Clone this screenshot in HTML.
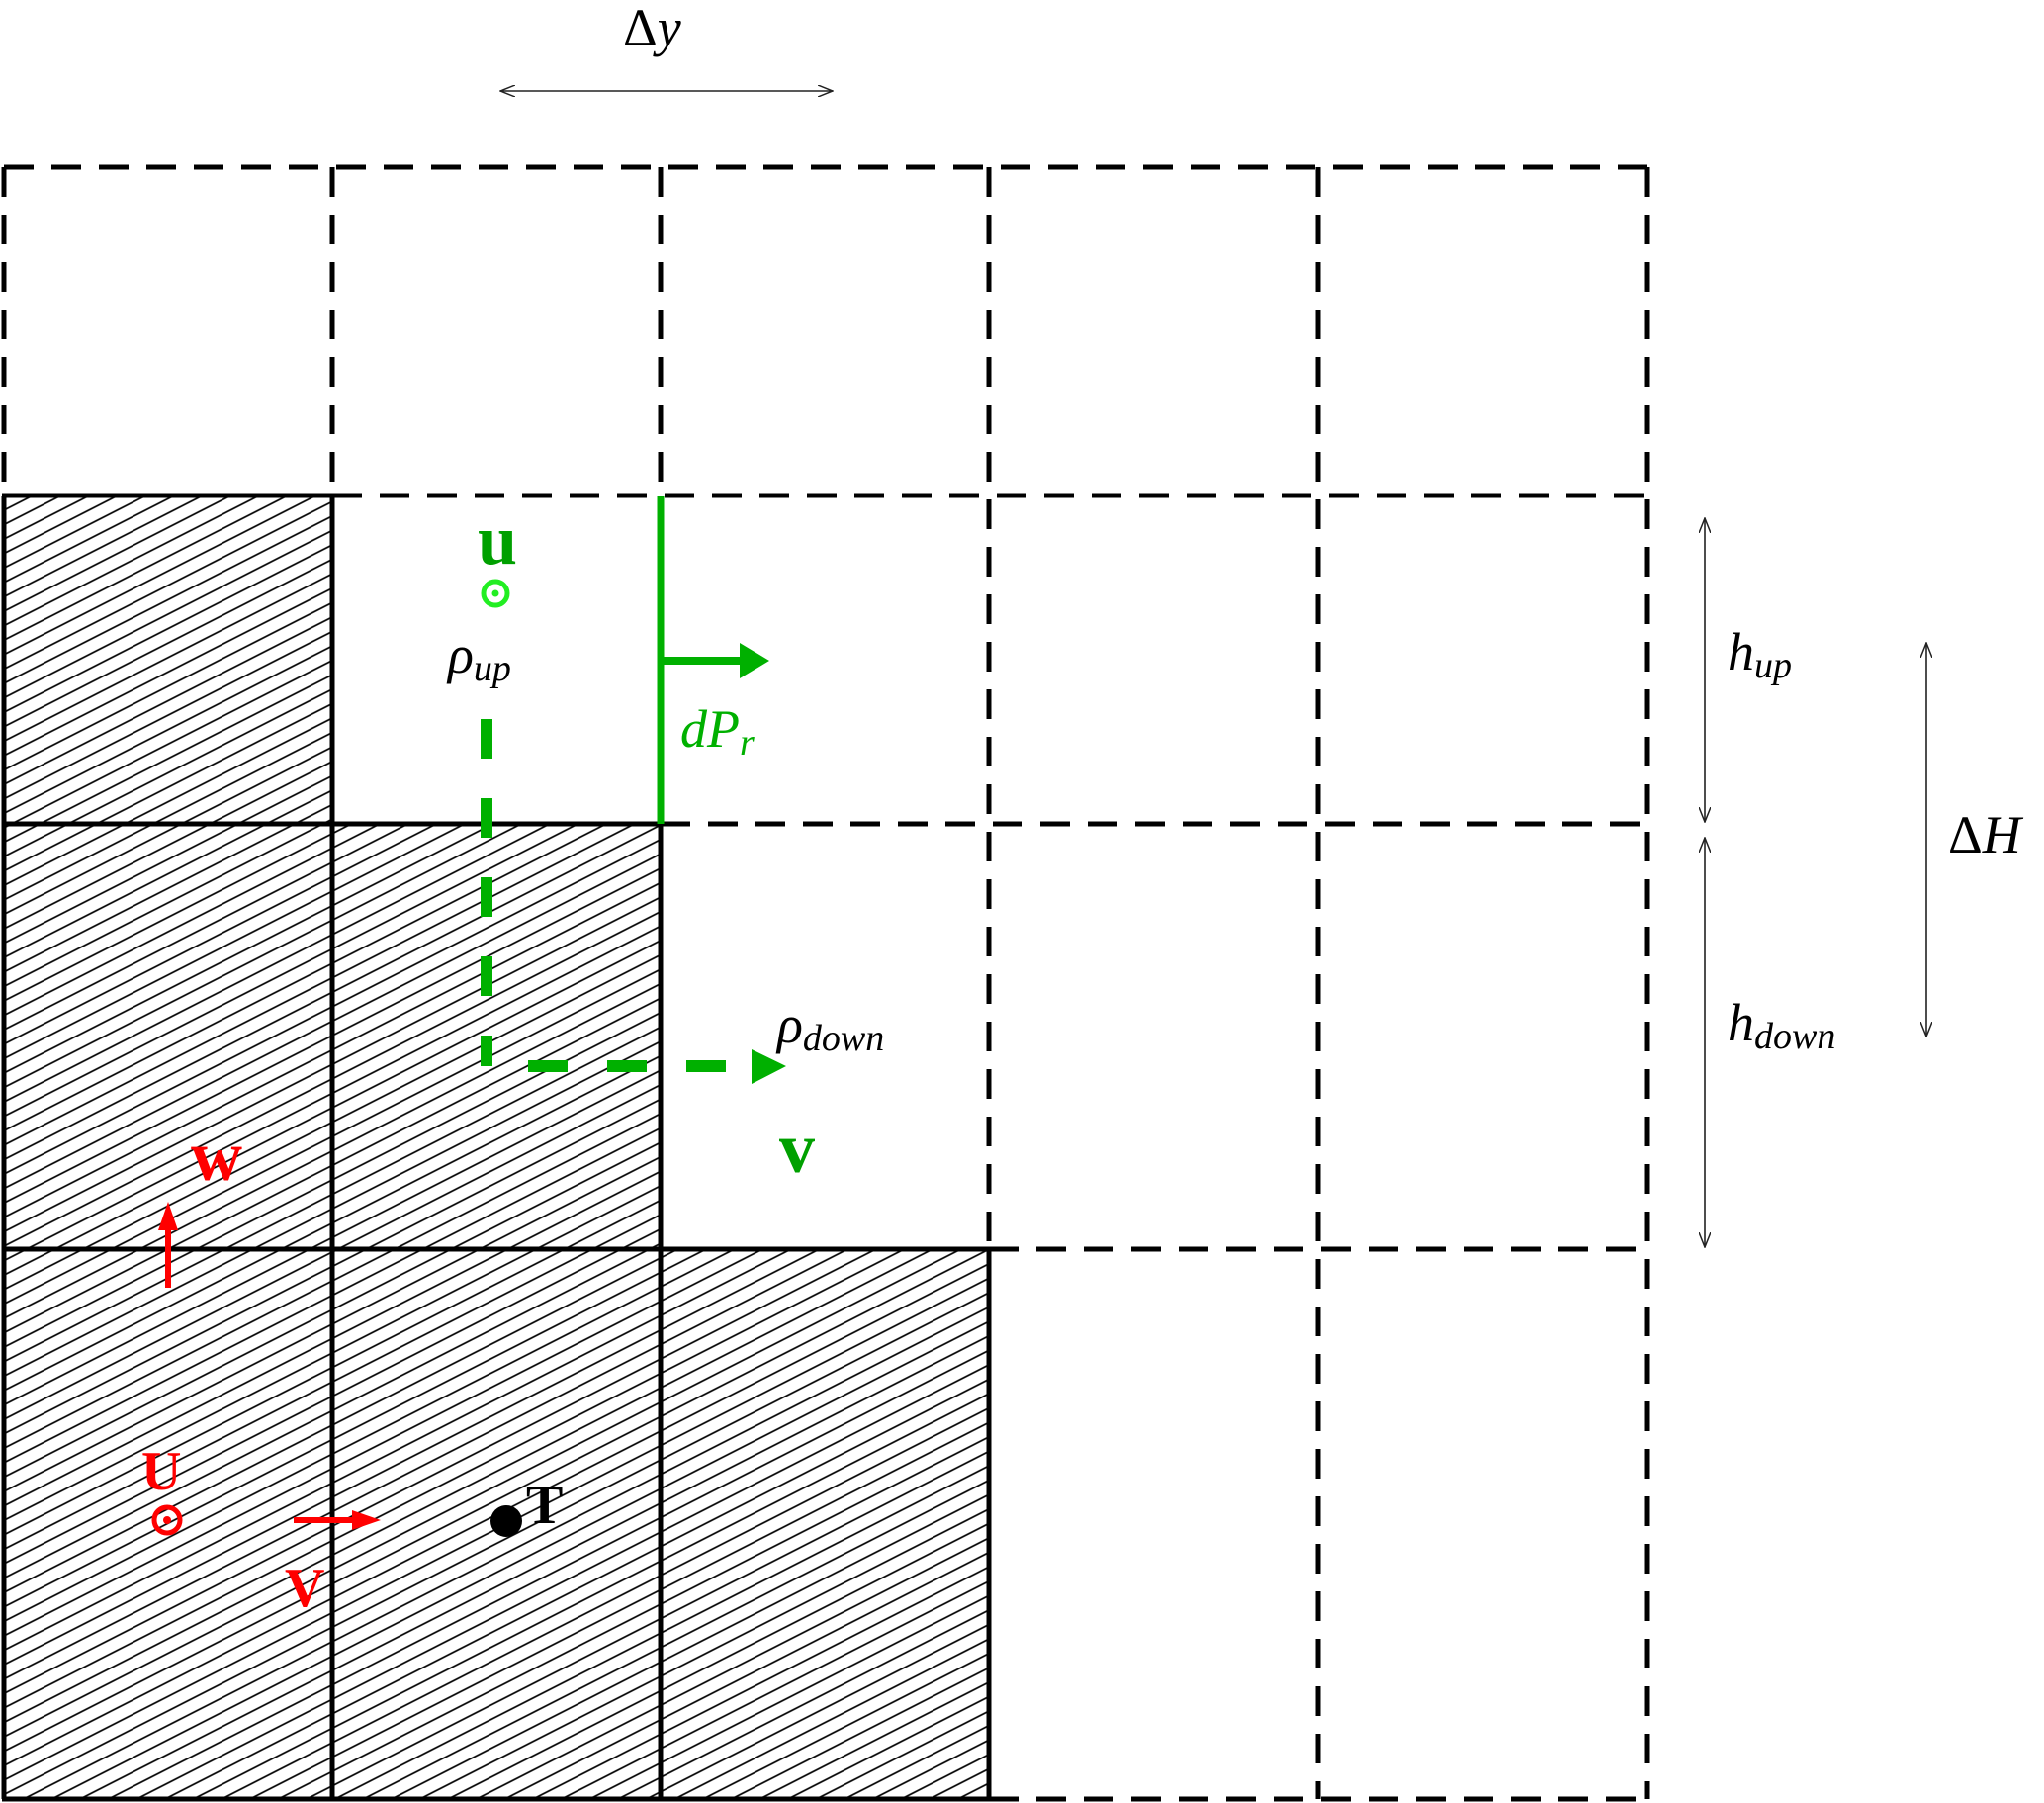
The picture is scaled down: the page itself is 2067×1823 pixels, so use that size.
<!DOCTYPE html>
<html><head><meta charset="utf-8"><style>
html,body{margin:0;padding:0;background:#fff;}
svg{display:block;}
text{font-family:"Liberation Serif",serif;}
.m{font-style:italic;font-size:54px;}
.s{font-style:italic;font-size:38px;}
</style></head><body>
<svg width="2067" height="1823" viewBox="0 0 2067 1823" xmlns="http://www.w3.org/2000/svg">
<defs>
<pattern id="h" patternUnits="userSpaceOnUse" width="13" height="13" patternTransform="rotate(-27)">
<line x1="0" y1="6.5" x2="13" y2="6.5" stroke="#000" stroke-width="1.7"/>
</pattern>
<marker id="oa" markerWidth="16" markerHeight="12" refX="15" refY="6" orient="auto" markerUnits="userSpaceOnUse">
<path d="M0,0 L15,6 L0,12" fill="none" stroke="#222" stroke-width="1.5"/>
</marker>
<marker id="ob" markerWidth="16" markerHeight="12" refX="1" refY="6" orient="auto" markerUnits="userSpaceOnUse">
<path d="M16,0 L1,6 L16,12" fill="none" stroke="#222" stroke-width="1.5"/>
</marker>
</defs>
<rect x="4" y="501" width="332" height="332" fill="url(#h)"/>
<rect x="4" y="833" width="664" height="430" fill="url(#h)"/>
<rect x="4" y="1263" width="996" height="556" fill="url(#h)"/>
<g stroke="#000" stroke-width="5" stroke-dasharray="30 18" fill="none">
<line x1="4" y1="169" x2="1666" y2="169"/>
<line x1="336" y1="501" x2="1666" y2="501"/>
<line x1="668" y1="833" x2="1666" y2="833"/>
<line x1="1000" y1="1263" x2="1666" y2="1263"/>
<line x1="1000" y1="1819" x2="1666" y2="1819"/>
<line x1="4" y1="169" x2="4" y2="501"/>
<line x1="336" y1="169" x2="336" y2="501"/>
<line x1="668" y1="169" x2="668" y2="501"/>
<line x1="1000" y1="169" x2="1000" y2="1263"/>
<line x1="1333" y1="169" x2="1333" y2="1819"/>
<line x1="1666" y1="169" x2="1666" y2="1819"/>
</g>
<g stroke="#000" stroke-width="5" fill="none">
<line x1="4" y1="501" x2="4" y2="1819"/>
<line x1="336" y1="501" x2="336" y2="1819"/>
<line x1="668" y1="833" x2="668" y2="1819"/>
<line x1="1000" y1="1263" x2="1000" y2="1819"/>
<line x1="2" y1="501" x2="336" y2="501"/>
<line x1="2" y1="833" x2="668" y2="833"/>
<line x1="2" y1="1263" x2="1000" y2="1263"/>
<line x1="2" y1="1819" x2="1000" y2="1819"/>
</g>
<g stroke="#222" stroke-width="1.6">
<line x1="506" y1="92" x2="842" y2="92" marker-start="url(#ob)" marker-end="url(#oa)"/>
<line x1="1724" y1="524" x2="1724" y2="831" marker-start="url(#ob)" marker-end="url(#oa)"/>
<line x1="1724" y1="847" x2="1724" y2="1261" marker-start="url(#ob)" marker-end="url(#oa)"/>
<line x1="1948" y1="650" x2="1948" y2="1048" marker-start="url(#ob)" marker-end="url(#oa)"/>
</g>
<text x="630" y="46" class="m" style="font-style:normal">Δ<tspan font-style="italic">y</tspan></text>
<text x="1747" y="677" class="m">h<tspan class="s" dy="8">up</tspan></text>
<text x="1747" y="1052" class="m">h<tspan class="s" dy="8">down</tspan></text>
<text x="1970" y="862" class="m" style="font-style:normal">Δ<tspan font-style="italic">H</tspan></text>
<line x1="668" y1="501" x2="668" y2="833" stroke="#00b000" stroke-width="7"/>
<line x1="670" y1="668" x2="752" y2="668" stroke="#00b000" stroke-width="8"/>
<polygon points="748,650 778,668 748,686" fill="#00b000"/>
<text x="688" y="755" class="m" fill="#00b000">dP<tspan class="s" dy="8">r</tspan></text>
<text x="483" y="570" font-size="72" font-weight="bold" fill="#00a000">u</text>
<circle cx="501" cy="600" r="12" fill="none" stroke="#22ee22" stroke-width="5"/>
<circle cx="501" cy="600" r="3.5" fill="#22ee22"/>
<text x="453" y="680" class="m">ρ<tspan class="s" dy="8">up</tspan></text>
<line x1="492" y1="727" x2="492" y2="1078" stroke="#00b000" stroke-width="12" stroke-dasharray="40 40"/>
<line x1="534" y1="1078" x2="766" y2="1078" stroke="#00b000" stroke-width="12" stroke-dasharray="40 40"/>
<polygon points="760,1061 795,1078 760,1096" fill="#00b000"/>
<text x="786" y="1054" class="m">ρ<tspan class="s" dy="8">down</tspan></text>
<text x="788" y="1185" font-size="72" font-weight="bold" fill="#00a000">v</text>
<text x="193" y="1193" font-size="72" font-weight="bold" fill="#f00">w</text>
<line x1="170" y1="1302" x2="170" y2="1240" stroke="#f00" stroke-width="6"/>
<polygon points="160,1244 170,1215 180,1244" fill="#f00"/>
<text x="143" y="1506" font-size="56" font-weight="bold" fill="#f00">U</text>
<circle cx="169" cy="1537" r="13" fill="none" stroke="#f00" stroke-width="5"/>
<circle cx="169" cy="1537" r="4" fill="#f00"/>
<line x1="297" y1="1537" x2="362" y2="1537" stroke="#f00" stroke-width="6"/>
<polygon points="356,1527 385,1537 356,1547" fill="#f00"/>
<text x="288" y="1624" font-size="56" font-weight="bold" fill="#f00">V</text>
<circle cx="512" cy="1538" r="16" fill="#000"/>
<text x="532" y="1540" font-size="56" font-weight="bold" fill="#000">T</text>
</svg>
</body></html>
